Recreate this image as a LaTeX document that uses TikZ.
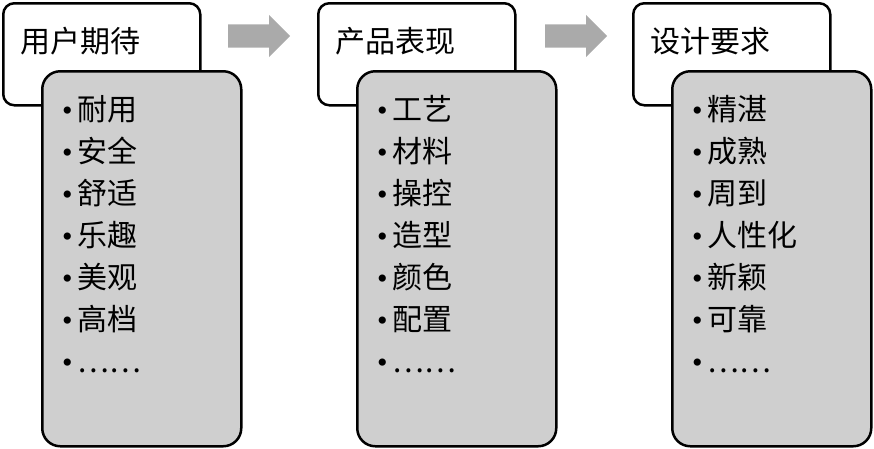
\documentclass[tikz,border=0pt]{standalone}
\usepackage{fontspec}
\newfontfamily\cjk{Noto Sans CJK SC}
\newfontfamily\bulletfont{Liberation Serif}
\newcommand{\bul}{{\bulletfont •}\kern5pt}
\usetikzlibrary{shapes.arrows, positioning}
\definecolor{boxgray}{RGB}{207,207,207}
\definecolor{arrowgray}{RGB}{170,170,170}
\tikzset{
  headbox/.style={draw, line width=2.5pt, rounded corners=11pt, fill=white, anchor=north west,
    minimum width=197pt, minimum height=102pt},
  listbox/.style={draw, line width=2.5pt, rounded corners=18pt, fill=boxgray, anchor=north west,
    minimum width=199pt, minimum height=375pt},
  boxtext/.style={inner sep=0pt, align=left, font={\cjk\fontsize{30pt}{42pt}\selectfont}},
  flowarrow/.style={single arrow, fill=arrowgray, inner xsep=0pt, inner ysep=11.5pt,
    minimum height=62pt, single arrow head extend=9.5pt, anchor=tail}
}
\begin{document}
\begin{tikzpicture}[x=1pt, y=-1pt]
  \useasboundingbox (0,0) rectangle (874,448);
  \foreach \x/\n/\title/\items in {
      0/1/用户期待/{\bul 耐用\\\bul 安全\\\bul 舒适\\\bul 乐趣\\\bul 美观\\\bul 高档\\\bul ……},
      315/2/产品表现/{\bul 工艺\\\bul 材料\\\bul 操控\\\bul 造型\\\bul 颜色\\\bul 配置\\\bul ……},
      630/3/设计要求/{\bul 精湛\\\bul 成熟\\\bul 周到\\\bul 人性化\\\bul 新颖\\\bul 可靠\\\bul ……}} {
    \node[headbox] (head\n) at (\x+2,2) {};
    \node[boxtext, anchor=base west, xshift=18pt, yshift=-50pt] (title\n) at (head\n.north west) {\title};
    \node[listbox] (list\n) at (\x+41,70) {};
    \node[boxtext, anchor=north west, xshift=21pt, yshift=-25pt] (items\n) at (list\n.north west) {\items};
  }
  \foreach \x/\n in {0/1, 317/2}
    \node[flowarrow] (arrow\n) at (\x+228,36) {};
\end{tikzpicture}
\end{document}
